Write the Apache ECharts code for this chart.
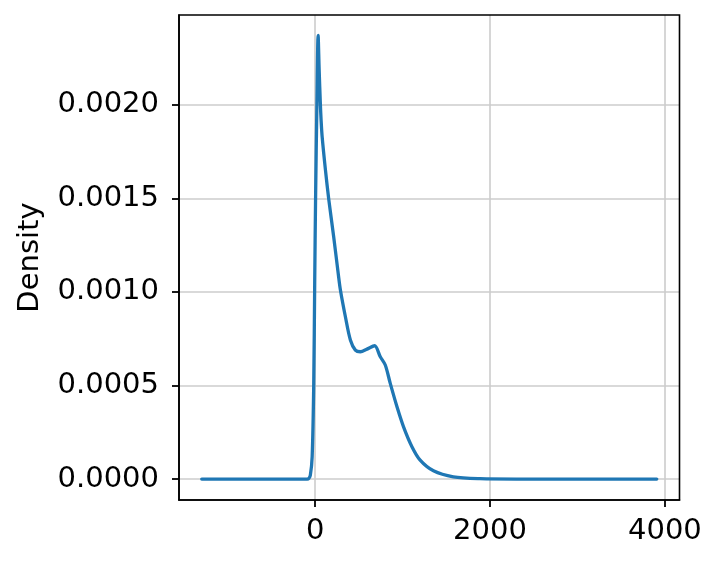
<!DOCTYPE html>
<html>
<head>
<meta charset="utf-8">
<script src="https://cdn.jsdelivr.net/npm/echarts@6/dist/echarts.min.js"></script>
<style>html,body{margin:0;padding:0;background:#fff}#c{width:720px;height:562px}</style>
</head>
<body>
<div id="c"></div>
<script>
const xValues = [-1297, -400, -150, -90, -73, -55, -34, -16, -5, 5, 20, 34, 46, 60, 68, 80, 118, 155, 212, 266, 289, 346, 403, 460, 517, 593, 680, 745, 802, 859, 936, 1011, 1107, 1201, 1353, 1581, 1886, 2300, 3000, 3907];
const densityValues = [0, 0, 0, 0, 0.000003, 0.00002, 0.00012, 0.00051, 0.00105, 0.0015, 0.002, 0.00237, 0.002185, 0.002, 0.001918, 0.001829, 0.00165, 0.001497, 0.001294, 0.00109, 0.00101, 0.000867, 0.000743, 0.000689, 0.00068, 0.000694, 0.000712, 0.000653, 0.000609, 0.000511, 0.000386, 0.000279, 0.000173, 0.000101, 0.000044, 0.000012, 0.000002, 0, 0, 0];
const xTicks = [0, 2000, 4000];
const yTicks = [0, 0.0005, 0.0010, 0.0015, 0.0020];
const yAxisName = 'Density';

const points = xValues.map((x, i) => [x, densityValues[i]]);
const font = 'DejaVu Sans';
const chart = echarts.init(document.getElementById('c'), null, {renderer: 'canvas'});
chart.setOption({
  animation: false,
  backgroundColor: '#ffffff',
  grid: {left: 179, top: 15, width: 500.5, height: 485, show: true, borderColor: '#000000', borderWidth: 1.6, backgroundColor: 'transparent', z: 3},
  xAxis: {
    type: 'value', min: -1557, max: 4167,
    axisLine: {show: true, onZero: false, lineStyle: {color: '#000', width: 1.6}},
    axisTick: {show: true, inside: false, length: 7, lineStyle: {color: '#000', width: 1.8}, customValues: xTicks},
    axisLabel: {fontFamily: font, fontSize: 29, color: '#000', margin: 17, customValues: xTicks, formatter: v => String(v)},
    splitLine: {show: true, lineStyle: {color: '#cccccc', width: 1.6}}
  },
  yAxis: {
    type: 'value', min: -0.000112, max: 0.002479,
    name: yAxisName, nameLocation: 'middle', nameGap: 134, nameRotate: 90,
    nameTextStyle: {fontFamily: font, fontSize: 29, color: '#000'},
    axisLine: {show: true, onZero: false, lineStyle: {color: '#000', width: 1.6}},
    axisTick: {show: true, inside: false, length: 7, lineStyle: {color: '#000', width: 1.8}, customValues: yTicks},
    axisLabel: {fontFamily: font, fontSize: 29, color: '#000', margin: 20, customValues: yTicks, formatter: v => v.toFixed(4)},
    splitLine: {show: true, lineStyle: {color: '#cccccc', width: 1.6}}
  },
  series: [{
    type: 'line', data: points, showSymbol: false, smooth: 0.3,
    lineStyle: {color: '#1f77b4', width: 3.3, join: 'round', cap: 'round'}, z: 2
  }]
});
</script>
</body>
</html>
